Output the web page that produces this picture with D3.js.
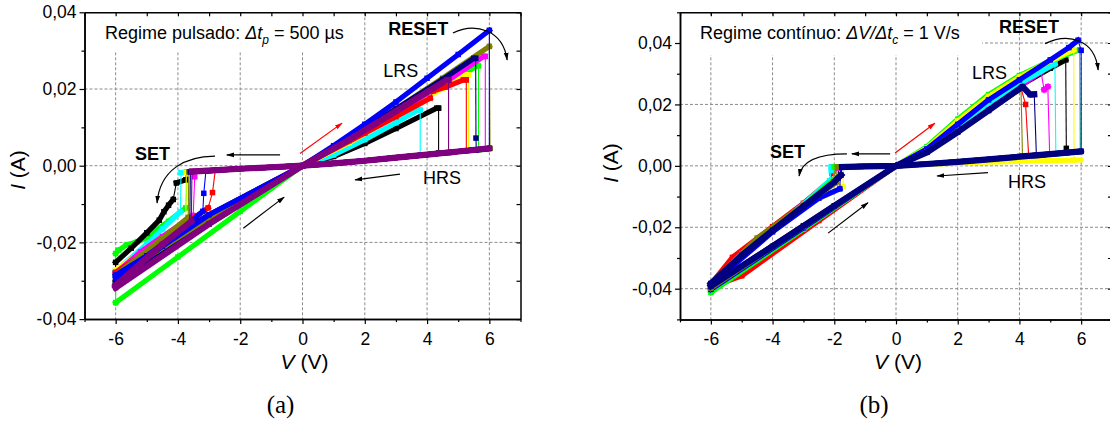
<!DOCTYPE html>
<html lang="pt">
<head>
<meta charset="utf-8">
<script src="https://d3js.org/d3.v7.min.js"></script>
<style>
  body { margin: 0; background: #fff; }
  text { font-family: "Liberation Sans", Arial, sans-serif; }
</style>
</head>
<body>
<div id="chart"></div>
<script>

// ---- axis ticks
var voltTicks = [-6, -4, -2, 0, 2, 4, 6];
var voltMinor = [-7, -5, -3, -1, 1, 3, 5, 7];
var curTicksA = [-0.04, -0.02, 0, 0.02, 0.04];
var curMinorA = [-0.03, -0.01, 0.01, 0.03];
var curTicksB = [-0.04, -0.02, 0, 0.02, 0.04];
var curMinorB = [-0.05, -0.03, -0.01, 0.01, 0.03, 0.05];

// ---- (a) pulsed regime: each cycle = LRS up to RESET drop, then HRS, then SET jump, LRS to -6 and back
var namesA = ["lime", "black", "cyan", "yellow", "magenta", "red", "olive", "navy", "blue", "purple"];
var upA = [
  [[0,0],[1.5,0.0062],[3,0.0135],[4.5,0.0205],[5.6,0.026],[5.65,0.026],[5.65,0.0041]],
  [[0,0],[1,0.0024],[2,0.0058],[3,0.0097],[4.31,0.015],[4.37,0.015],[4.37,0.0033]],
  [[0,0],[1,0.0028],[2,0.0068],[3,0.0112],[3.72,0.01455],[3.78,0.0145],[3.78,0.0028]],
  [[0,0],[1.5,0.006],[3,0.0132],[4.5,0.0202],[5.23,0.0237],[5.33,0.0237],[5.33,0.0039]],
  [[0,0],[1.5,0.0065],[3,0.0138],[4.5,0.0213],[5.82,0.0285],[5.87,0.0285],[5.87,0.0043]],
  [[0,0],[2,0.0085],[3,0.0128],[4.1,0.0176],[4.2,0.0195],[4.6,0.0205],[5.17,0.0224],[5.26,0.0224],[5.26,0.0039]],
  [[0,0],[1.5,0.0071],[3,0.0148],[4.5,0.0228],[6,0.0311],[6.02,0.0045]],
  [[0,0],[1.5,0.0072],[3,0.0148],[4.5,0.0225],[5.5,0.028],[5.56,0.028],[5.57,0.0072],[5.58,0.0041]],
  [[0,0],[1,0.0052],[2,0.0108],[3,0.0166],[4,0.0228],[5,0.029],[6,0.0353],[6,0.0045]],
  [[0,0],[1.5,0.0068],[3,0.0142],[4.64,0.0224],[4.69,0.0224],[4.69,0.0034]]
];
var downA = [
  [[-3.7,-0.0017],[-3.75,-0.011],[-4.3,-0.0145],[-4.7,-0.0168],[-4.9,-0.0185],[-5.3,-0.0198],[-5.66,-0.0207],[-5.9,-0.022],[-6,-0.0229],[-6,-0.0357],[-4,-0.0238],[-2,-0.0119],[0,0]],
  [[-3.72,-0.0017],[-3.75,-0.0037],[-4.05,-0.0045],[-4.15,-0.0088],[-4.3,-0.0103],[-4.45,-0.012],[-4.6,-0.0142],[-5,-0.0175],[-5.5,-0.0215],[-6,-0.0252],[-6,-0.0275],[-3,-0.0128],[0,0]],
  [[-3.9,-0.0018],[-3.92,-0.012],[-4.5,-0.0165],[-5,-0.0205],[-6,-0.0275],[-6,-0.029],[-3,-0.0135],[0,0]],
  [[-3.73,-0.0017],[-3.75,-0.0145],[-4.5,-0.0185],[-5,-0.0215],[-6,-0.0272],[-6,-0.0285],[-3,-0.0135],[0,0]],
  [[-3.46,-0.0015],[-3.46,-0.0029],[-3.51,-0.013],[-4.5,-0.0185],[-5.2,-0.0225],[-6,-0.028],[-6,-0.0288],[-3,-0.0132],[0,0]],
  [[-2.8,-0.0011],[-2.89,-0.007],[-3.03,-0.011],[-4,-0.0165],[-5,-0.0225],[-6,-0.0278],[-6,-0.0285],[-3,-0.013],[0,0]],
  [[-3.65,-0.0016],[-3.67,-0.0135],[-4.5,-0.019],[-6,-0.0285],[-6,-0.03],[-3,-0.0143],[0,0]],
  [[-3.6,-0.0016],[-3.62,-0.0155],[-4.5,-0.021],[-6,-0.0302],[-6,-0.0308],[-3,-0.0152],[0,0]],
  [[-3.1,-0.0013],[-3.17,-0.0072],[-3.2,-0.0119],[-4,-0.0175],[-5,-0.0235],[-6,-0.0285],[-6,-0.0292],[-3,-0.0128],[0,0]],
  [[-3.55,-0.0015],[-3.57,-0.0145],[-4.5,-0.0205],[-6,-0.0312],[-6,-0.0318],[-3,-0.0152],[0,0]]
];
var hrsA = [[6,0.0045],[5,0.0037],[4,0.0029],[3,0.0021],[2,0.0013],[1,0.0006],[0,0],[-1,-0.0004],[-2,-0.0008],[-3,-0.0013]];

// ---- (b) continuous regime
var namesB = ["black", "red", "magenta", "cyan", "lime", "yellow", "blue", "olive", "navy"];
var upB = [
  [[0,0],[1,0.005],[2,0.0122],[3,0.0195],[4,0.026],[5,0.0318],[5.5,0.0345],[5.52,0.0057],[5.54,0.0043]],
  [[0,0],[1,0.0045],[2,0.0112],[3,0.0182],[4.05,0.0253],[4.2,0.02],[4.3,0.0032]],
  [[0,0],[1,0.005],[2,0.0122],[3,0.0192],[4,0.0258],[4.7,0.0306],[4.8,0.0248],[4.92,0.0258],[4.98,0.0038]],
  [[0,0],[1,0.0052],[2,0.013],[3,0.0205],[4,0.0268],[5.15,0.0332],[5.18,0.0039]],
  [[0,0],[1,0.0062],[2,0.0152],[3,0.0232],[4,0.0294],[5,0.0342],[5.95,0.0378],[5.97,0.0047]],
  [[0,0],[1,0.0058],[2,0.0146],[3,0.0226],[4,0.0289],[5,0.0342],[5.76,0.0378],[5.77,0.0019]],
  [[0,0],[1,0.0055],[2,0.0135],[3,0.0215],[4,0.028],[5,0.0345],[5.6,0.0385],[5.9,0.0409],[6,0.0376],[6,0.0047]],
  [[0,0],[1,0.0045],[2,0.0112],[3,0.0182],[4.05,0.0252],[4.1,0.0031]],
  [[0,0],[1,0.0044],[2,0.011],[3,0.018],[4.1,0.0258],[4.35,0.0232],[4.48,0.0233],[4.55,0.0034]]
];
var downB = [
  [[-1.85,-0.0004],[-1.88,-0.004],[-3,-0.013],[-4.5,-0.025],[-6,-0.0385],[-6,-0.039],[-3,-0.0195],[0,0]],
  [[-2.07,-0.0004],[-2.07,-0.0025],[-2.15,-0.005],[-3,-0.0122],[-4,-0.0198],[-5.3,-0.0298],[-6,-0.0385],[-6,-0.0395],[-5,-0.0358],[-2.5,-0.0178],[0,0]],
  [[-1.92,-0.0004],[-1.92,-0.0008],[-2.05,-0.005],[-3,-0.0125],[-5,-0.0285],[-6,-0.0385],[-6,-0.0405],[-3,-0.0204],[0,0]],
  [[-2.1,-0.0004],[-2.1,-0.0015],[-2.15,-0.0048],[-3,-0.0125],[-4.5,-0.0245],[-6,-0.0385],[-6,-0.0408],[-3,-0.0205],[0,0]],
  [[-2,-0.0004],[-2.02,-0.0045],[-3,-0.013],[-4.5,-0.025],[-6,-0.039],[-6,-0.0412],[-3,-0.0206],[0,0]],
  [[-1.7,-0.0004],[-1.72,-0.0068],[-3,-0.0135],[-4.5,-0.0245],[-6,-0.0388],[-6,-0.0398],[-3,-0.0198],[0,0]],
  [[-1.8,-0.0004],[-1.82,-0.0075],[-2.5,-0.0105],[-4,-0.0215],[-6,-0.0388],[-6,-0.0402],[-3,-0.0202],[0,0]],
  [[-1.9,-0.0004],[-1.95,-0.0055],[-3,-0.0128],[-4.5,-0.0235],[-6,-0.0385],[-6,-0.0398],[-3,-0.0198],[0,0]],
  [[-1.75,-0.0004],[-1.78,-0.003],[-2,-0.0052],[-3,-0.0132],[-4,-0.021],[-5,-0.0292],[-6,-0.0383],[-6,-0.0392],[-4,-0.0262],[-2,-0.013],[0,0]]
];
var hrsB = [[6,0.0047],[5,0.0038],[4,0.003],[3,0.0021],[2,0.0013],[1,0.0006],[0,0],[-1,-0.0002]];
var hrsBlow = [[6,0.0019],[5,0.0017],[4,0.0015],[3,0.0012],[2,0.0009],[1,0.0005],[0,0],[-1,-0.0002]];

var colorOf = d3.scaleOrdinal()
  .domain(["black","red","lime","blue","cyan","magenta","yellow","olive","navy","purple"])
  .range(["#000000","#ff0000","#00ff00","#0000ff","#00ffff","#ff00ff","#ffff00","#808000","#000080","#800080"]);

var loc = d3.formatLocale({decimal: ",", thousands: ".", grouping: [3], currency: ["", ""], minus: "-"});
var fmtI = loc.format(".2f");
var fmtV = loc.format("d");

var svg = d3.select("#chart").append("svg")
  .attr("width", 1110).attr("height", 421)
  .style("background", "#fff");

var defs = svg.append("defs");
[["ahK", "#000"], ["ahR", "#f00"]].forEach(function(m) {
  defs.append("marker")
    .attr("id", m[0]).attr("viewBox", "0 0 10 10")
    .attr("refX", 9).attr("refY", 5)
    .attr("markerWidth", 8).attr("markerHeight", 8)
    .attr("markerUnits", "userSpaceOnUse")
    .attr("orient", "auto")
    .append("path").attr("d", "M0,2 L10,5 L0,8 z").attr("fill", m[1]);
});

// join LRS branch, HRS (up to +6 and back) and SET branch into one sweep
function cycle(up, down, hrs) {
  var vr = up[up.length - 1][0], vs = down[0][0];
  var rise = hrs.filter(function(p) { return p[0] > vr; }).sort(function(a, b) { return a[0] - b[0]; });
  var back = hrs.filter(function(p) { return p[0] > vs; }).sort(function(a, b) { return b[0] - a[0]; });
  return up.concat(rise, back, down);
}

// abrupt switching segments are drawn thin, the rest as a thick band of points
function split(pts) {
  var thick = [], thin = [], run = [pts[0]];
  for (var i = 1; i < pts.length; i++) {
    var a = pts[i - 1], b = pts[i];
    var dI = Math.abs(b[1] - a[1]), dV = Math.abs(b[0] - a[0]);
    if (dI > 0.015 * dV && dI > 0.0005) {
      if (run.length > 1) thick.push(run);
      run = [b];
      thin.push([a, b]);
    } else run.push(b);
  }
  if (run.length > 1) thick.push(run);
  return {thick: thick, thin: thin};
}

function panel(cfg) {
  var x = d3.scaleLinear().domain([-7, 7]).range(cfg.xr);
  var y = d3.scaleLinear().domain(cfg.yd).range(cfg.yr);
  var g = svg.append("g");

  // grid
  g.selectAll(".gx").data(voltTicks).enter().append("line")
    .attr("x1", function(d) { return x(d); }).attr("x2", function(d) { return x(d); })
    .attr("y1", cfg.yr[1]).attr("y2", cfg.yr[0])
    .attr("stroke", "#8c8c8c").attr("stroke-width", 1).attr("stroke-dasharray", "3,2");
  g.selectAll(".gy").data(cfg.curTicks.filter(function(t) { return t > cfg.yd[0] + 1e-9 && t < cfg.yd[1] - 1e-9; }))
    .enter().append("line")
    .attr("x1", cfg.xr[0]).attr("x2", cfg.xr[1])
    .attr("y1", function(d) { return y(d); }).attr("y2", function(d) { return y(d); })
    .attr("stroke", "#8c8c8c").attr("stroke-width", 1).attr("stroke-dasharray", "3,2");

  // white box behind the regime note
  g.append("rect")
    .attr("x", x(cfg.box[0])).attr("y", y(cfg.box[1]))
    .attr("width", x(cfg.box[2]) - x(cfg.box[0])).attr("height", y(cfg.box[3]) - y(cfg.box[1]))
    .attr("fill", "#fff");

  // data
  var line = d3.line().x(function(d) { return x(d[0]); }).y(function(d) { return y(d[1]); });
  cfg.names.forEach(function(name, i) {
    var pts = cycle(cfg.up[i], cfg.down[i], cfg.hrsFor(name));
    var parts = split(pts);
    var col = colorOf(name);
    var w = i === cfg.names.length - 1 ? 6.2 : 5.2;
    var sg = g.append("g");
    sg.selectAll("line").data(parts.thin).enter().append("line")
      .attr("x1", function(d) { return x(d[0][0]); }).attr("y1", function(d) { return y(d[0][1]); })
      .attr("x2", function(d) { return x(d[1][0]); }).attr("y2", function(d) { return y(d[1][1]); })
      .attr("stroke", col).attr("stroke-width", 1.1);
    sg.selectAll("path").data(parts.thick).enter().append("path")
      .attr("d", line).attr("fill", "none").attr("stroke", col)
      .attr("stroke-width", w).attr("stroke-linejoin", "round").attr("stroke-linecap", "square");
    sg.selectAll("rect").data(cfg.up[i].concat(cfg.down[i])).enter().append("rect")
      .attr("x", function(d) { return x(d[0]) - 2.75; }).attr("y", function(d) { return y(d[1]) - 2.75; })
      .attr("width", 5.5).attr("height", 5.5).attr("fill", col);
  });

  // arrows
  cfg.arrows.forEach(function(a) {
    g.append("line")
      .attr("x1", x(a[0])).attr("y1", y(a[1])).attr("x2", x(a[2])).attr("y2", y(a[3]))
      .attr("stroke", a[4] ? "#f00" : "#000").attr("stroke-width", 1.2)
      .attr("marker-end", a[4] ? "url(#ahR)" : "url(#ahK)");
  });
  cfg.curves.forEach(function(c) {
    var p = d3.path();
    p.moveTo(x(c[0]), y(c[1]));
    p.bezierCurveTo(x(c[2]), y(c[3]), x(c[4]), y(c[5]), x(c[6]), y(c[7]));
    g.append("path").attr("d", p.toString()).attr("fill", "none")
      .attr("stroke", "#000").attr("stroke-width", 1.2).attr("marker-end", "url(#ahK)");
  });

  // labels
  cfg.labels.forEach(function(l) {
    g.append("text").attr("x", x(l[1])).attr("y", y(l[2]))
      .attr("font-size", 18).attr("font-weight", l[3] ? "bold" : "normal").text(l[0]);
  });
  var note = g.append("text").attr("x", x(cfg.note[0])).attr("y", y(cfg.note[1])).attr("font-size", 18);
  note.append("tspan").text(cfg.noteText[0]);
  note.append("tspan").attr("font-style", "italic").text(cfg.noteText[1]);
  note.append("tspan").attr("font-style", "italic").attr("font-size", 12).attr("dy", 5).text(cfg.noteText[2]);
  note.append("tspan").attr("dy", -5).text(cfg.noteText[3]);

  // axes
  function styleAxis(sel, labels) {
    sel.attr("font-family", "'Liberation Sans', Arial, sans-serif").attr("font-size", 17.5);
    sel.select(".domain").attr("stroke-width", 1.5);
    sel.selectAll(".tick line").attr("stroke-width", 1.2);
    if (!labels) sel.selectAll(".tick text").remove();
  }
  var bottom = g.append("g").attr("transform", "translate(0," + cfg.yr[0] + ")");
  bottom.call(d3.axisBottom(x).tickValues(voltTicks).tickSize(5).tickSizeOuter(0).tickPadding(8).tickFormat(fmtV));
  styleAxis(bottom, true);
  var bottomMin = g.append("g").attr("transform", "translate(0," + cfg.yr[0] + ")");
  bottomMin.call(d3.axisBottom(x).tickValues(voltMinor).tickSize(3).tickSizeOuter(0));
  styleAxis(bottomMin, false);

  var left = g.append("g").attr("transform", "translate(" + cfg.xr[0] + ",0)");
  left.call(d3.axisLeft(y).tickValues(cfg.curTicks).tickSize(5).tickSizeOuter(0).tickPadding(3).tickFormat(fmtI));
  styleAxis(left, true);
  var leftMin = g.append("g").attr("transform", "translate(" + cfg.xr[0] + ",0)");
  leftMin.call(d3.axisLeft(y).tickValues(cfg.curMinor).tickSize(3).tickSizeOuter(0));
  styleAxis(leftMin, false);

  var top = g.append("g").attr("transform", "translate(0," + cfg.yr[1] + ")");
  top.call(d3.axisTop(x).tickValues(voltTicks.concat(voltMinor)).tickSize(-4).tickSizeOuter(0));
  styleAxis(top, false);
  var right = g.append("g").attr("transform", "translate(" + cfg.xr[1] + ",0)");
  right.call(d3.axisRight(y).tickValues(cfg.curTicks.concat(cfg.curMinor)).tickSize(-4).tickSizeOuter(0));
  styleAxis(right, false);

  // axis titles
  var xt = g.append("text").attr("x", x(0) + 2).attr("y", 369)
    .attr("text-anchor", "middle").attr("font-size", 21);
  xt.append("tspan").attr("font-style", "italic").text("V");
  xt.append("tspan").text(" (V)");
  var yt = g.append("text")
    .attr("transform", "translate(" + cfg.ytX + "," + cfg.ytY + ") rotate(-90)")
    .attr("text-anchor", "middle").attr("font-size", 21);
  yt.append("tspan").attr("font-style", "italic").text("I");
  yt.append("tspan").text(" (A)");

  g.append("text").attr("x", x(0) - 22).attr("y", 413)
    .attr("text-anchor", "middle")
    .style("font-family", "'Liberation Serif', 'DejaVu Serif', serif")
    .attr("font-size", 25).text(cfg.caption);
}

panel({
  xr: [84.5, 520.5], yd: [-0.04, 0.04], yr: [319.1, 12.3],
  curTicks: curTicksA, curMinor: curMinorA,
  names: namesA, up: upA, down: downA,
  hrsFor: function() { return hrsA; },
  box: [-6.95, 0.0398, 1.43, 0.0296],
  note: [-6.34, 0.033], noteText: ["Regime pulsado: ", "\u0394t", "p", " = 500 \u00b5s"],
  labels: [["RESET", 2.75, 0.0341, true], ["LRS", 2.59, 0.0231, false], ["HRS", 3.87, -0.0048, false], ["SET", -5.38, 0.0015, true]],
  arrows: [[-0.08, 0.0032, 1.27, 0.0111, true], [-0.72, 0.0028, -2.43, 0.0028], [3.13, -0.0022, 1.69, -0.0037], [-1.9, -0.0163, -0.59, -0.0082]],
  curves: [[4.83, 0.0346, 5.54, 0.0375, 6.44, 0.0354, 6.57, 0.0276], [-2.81, 0.0025, -3.77, 0.0025, -4.58, -0.0011, -4.67, -0.0097]],
  ytX: 25, ytY: 170, caption: "(a)"
});

panel({
  xr: [680, 1112], yd: [-0.05, 0.05], yr: [319.4, 12.3],
  curTicks: curTicksB, curMinor: curMinorB,
  names: namesB, up: upB, down: downB,
  hrsFor: function(name) { return name === "yellow" ? hrsBlow : hrsB; },
  box: [-6.97, 0.0486, 2.79, 0.0361],
  note: [-6.35, 0.0413], noteText: ["Regime cont\u00ednuo: ", "\u0394V/\u0394t", "c", " = 1 V/s"],
  labels: [["RESET", 3.34, 0.0432, true], ["LRS", 2.46, 0.0283, false], ["HRS", 3.63, -0.0072, false], ["SET", -4.08, 0.0026, true]],
  arrows: [[-0.03, 0.0042, 1.26, 0.0139, true], [-0.19, 0.0039, -1.43, 0.0039], [2.98, -0.0022, 1.33, -0.0033], [-2.2, -0.0219, -0.91, -0.012]],
  curves: [[4.83, 0.0398, 5.57, 0.0434, 6.45, 0.0414, 6.55, 0.0312], [-1.59, 0.0039, -2.46, 0.0039, -3.05, 0.0019, -3.14, -0.0033]],
  ytX: 618, ytY: 163, caption: "(b)"
});

</script>
</body>
</html>
